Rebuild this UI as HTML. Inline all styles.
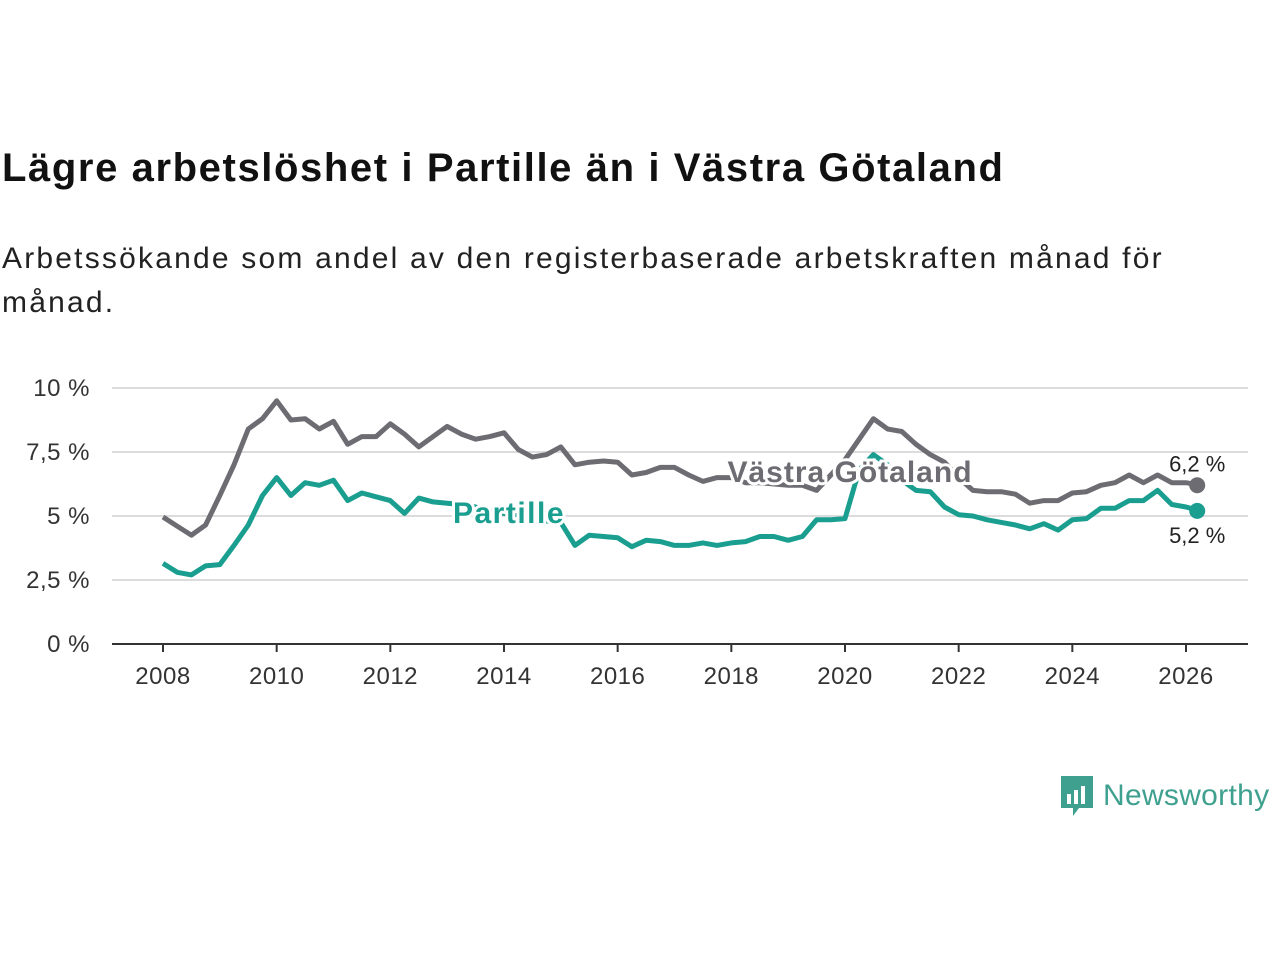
<!DOCTYPE html>
<html><head><meta charset="utf-8">
<style>
body{margin:0;background:#fff;width:1280px;height:960px;overflow:hidden;font-family:"Liberation Sans",sans-serif;}
h1{position:absolute;left:2px;top:146px;margin:0;font-size:40px;font-weight:bold;color:#111;letter-spacing:1.6px;white-space:nowrap}
.sub{position:absolute;left:2px;top:237px;margin:0;font-size:30px;line-height:44px;color:#222;width:1200px;letter-spacing:2.2px}
svg{position:absolute;left:0;top:0}
</style></head>
<body>
<h1>Lägre arbetslöshet i Partille än i Västra Götaland</h1>
<p class="sub">Arbetssökande som andel av den registerbaserade arbetskraften månad för månad.</p>
<svg id="chart" width="1280" height="960"></svg>
<script>
const startYear = 2008;
const xTicks = [2008,2010,2012,2014,2016,2018,2020,2022,2024,2026];
const yTicks = [0,2.5,5,7.5,10];
const yTickLabels = ["0 %","2,5 %","5 %","7,5 %","10 %"];
const vgValues = [4.96,4.6,4.25,4.65,5.8,7.0,8.4,8.8,9.5,8.75,8.8,8.4,8.7,7.8,8.1,8.1,8.6,8.2,7.7,8.1,8.5,8.2,8.0,8.1,8.25,7.6,7.3,7.4,7.7,7.0,7.1,7.15,7.1,6.6,6.7,6.9,6.9,6.6,6.35,6.5,6.5,6.3,6.3,6.25,6.2,6.2,6.0,6.6,7.2,8.0,8.8,8.4,8.3,7.8,7.4,7.1,6.5,6.0,5.95,5.95,5.85,5.5,5.6,5.6,5.9,5.95,6.2,6.3,6.6,6.3,6.6,6.3,6.3,6.2];
const paValues = [3.15,2.8,2.7,3.05,3.1,3.85,4.65,5.8,6.5,5.8,6.3,6.2,6.4,5.6,5.9,5.75,5.6,5.1,5.7,5.55,5.5,5.45,5.35,5.2,5.1,5.0,4.9,4.8,4.75,3.85,4.25,4.2,4.15,3.8,4.05,4.0,3.85,3.85,3.95,3.85,3.95,4.0,4.2,4.2,4.05,4.2,4.85,4.85,4.9,6.8,7.4,7.0,6.4,6.0,5.95,5.35,5.05,5.0,4.85,4.75,4.65,4.5,4.7,4.45,4.85,4.9,5.3,5.3,5.6,5.6,6.0,5.45,5.35,5.2];
const vgLabel = "6,2 %", paLabel = "5,2 %";

const NS="http://www.w3.org/2000/svg";
const svg=document.getElementById('chart');
const X=yr=>163+(yr-2008)*(1186-163)/18;
const Y=v=>644-v*25.6;
function el(tag,attrs,parent){const e=document.createElementNS(NS,tag);for(const k in attrs)e.setAttribute(k,attrs[k]);(parent||svg).appendChild(e);return e;}
yTicks.forEach((t,i)=>{
  if(t>0){const g=el('line',{x1:112,x2:1248,y1:Y(t),y2:Y(t),stroke:'#dcdcdc','stroke-width':2});
  
  }
  const tx=el('text',{x:90,y:Y(t)+8,'text-anchor':'end','font-size':24,'letter-spacing':0.5,fill:'#333','font-family':'Liberation Sans, sans-serif'});
  tx.textContent=yTickLabels[i];
  
  
});
const ax=el('line',{x1:112,x2:1248,y1:644,y2:644,stroke:'#333','stroke-width':2});


xTicks.forEach(t=>{
  const tk=el('line',{x1:X(t),x2:X(t),y1:644,y2:652,stroke:'#333','stroke-width':2});
  
  
  const tx=el('text',{x:X(t),y:684,'text-anchor':'middle','font-size':24,'letter-spacing':0.5,fill:'#333','font-family':'Liberation Sans, sans-serif'});
  tx.textContent=t;
  
  
});
function pts(vals){return vals.map((v,i)=>X(startYear+i*0.25).toFixed(1)+','+Y(v).toFixed(1)).join(' ');}
const l1=el('polyline',{points:pts(vgValues),fill:'none',stroke:'#6d6c72','stroke-width':5,'stroke-linejoin':'round'});


const l2=el('polyline',{points:pts(paValues),fill:'none',stroke:'#1a9e8f','stroke-width':5,'stroke-linejoin':'round'});


const lastX=X(startYear+(vgValues.length-1)*0.25)-3;
const d1=el('circle',{cx:lastX,cy:Y(vgValues[vgValues.length-1]),r:8,fill:'#6d6c72'});


const d2=el('circle',{cx:lastX,cy:Y(paValues[paValues.length-1]),r:8,fill:'#1a9e8f'});


const e1=el('text',{x:lastX,y:Y(vgValues[vgValues.length-1])-14,'text-anchor':'middle','font-size':22,fill:'#222','font-family':'Liberation Sans, sans-serif'});
e1.textContent=vgLabel;


const e2=el('text',{x:lastX,y:Y(paValues[paValues.length-1])+32,'text-anchor':'middle','font-size':22,fill:'#222','font-family':'Liberation Sans, sans-serif'});
e2.textContent=paLabel;


const s1=el('text',{x:850,y:482,'text-anchor':'middle','font-size':30,'letter-spacing':1,'font-weight':'bold',fill:'#6d6c72',stroke:'#fff','stroke-width':6,'paint-order':'stroke','font-family':'Liberation Sans, sans-serif'});
s1.textContent='Västra Götaland';


const s2=el('text',{x:509,y:523,'text-anchor':'middle','font-size':30,'letter-spacing':1.5,'font-weight':'bold',fill:'#1a9e8f',stroke:'#fff','stroke-width':6,'paint-order':'stroke','font-family':'Liberation Sans, sans-serif'});
s2.textContent='Partille';


</script>
<div style="position:absolute;left:1059px;top:774px;display:flex;align-items:center">
 <svg width="36" height="44" style="position:static">
  <path d="M2 2h32v32h-14l-6 8v-8H2z" fill="#3fa08f"/>
  <rect x="8" y="20" width="4" height="10" fill="#fff"/><rect x="15" y="16" width="4" height="14" fill="#fff"/><rect x="22" y="12" width="4" height="18" fill="#fff"/>
 </svg>
 <span style="color:#3fa08f;font-size:30px;margin-left:8px;font-family:'Liberation Sans',sans-serif;letter-spacing:0.3px">Newsworthy</span>
</div>
</body></html>
